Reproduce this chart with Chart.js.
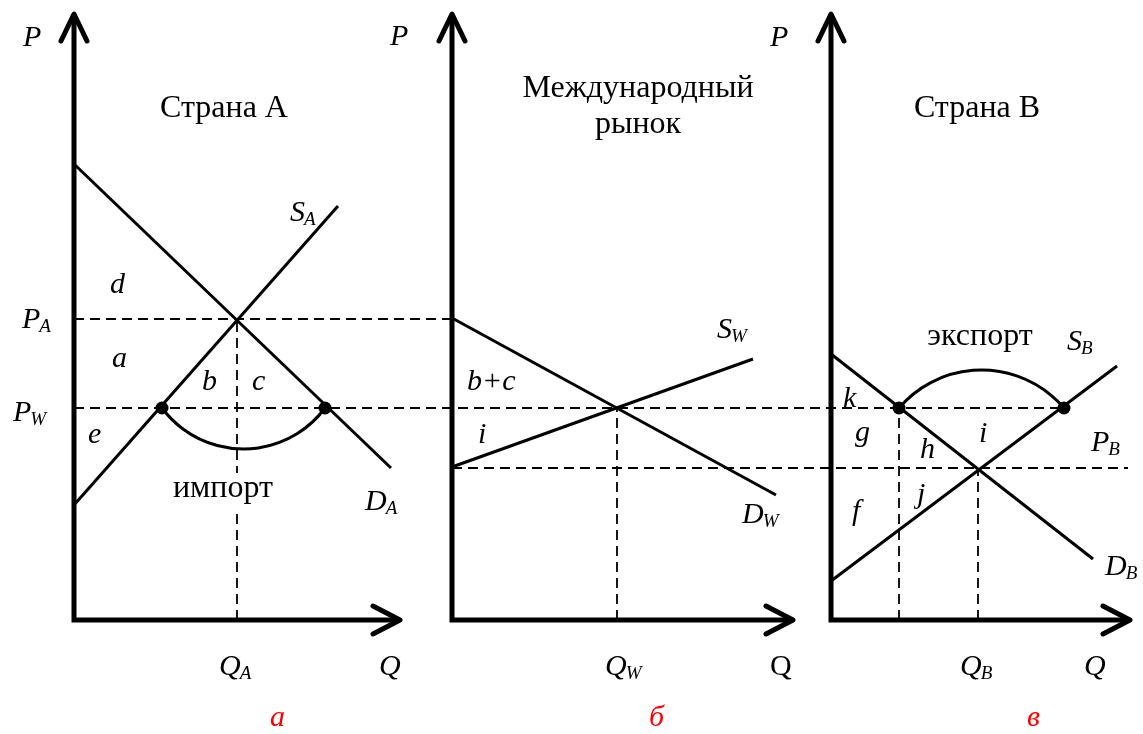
<!DOCTYPE html>
<html>
<head>
<meta charset="utf-8">
<script src="https://cdn.jsdelivr.net/npm/chart.js@4.4.1/dist/chart.umd.min.js"></script>
<style>
    html, body { margin: 0; padding: 0; background: #fff; }
    #wrap { position: relative; width: 1143px; height: 734px; }
</style>
</head>
<body>
<div id="wrap"><canvas id="chart" width="1143" height="734"></canvas></div>
<script>
// Drei Teilgrafiken auf einer gemeinsamen Preisskala P; Q zählt ab der jeweiligen P-Achse.
var panelOrigin = [0, 378, 757];
var axisQEnd = [326, 341, 299];
var axisPTop = 606;

// Страна А
var demandA = [[0, 456], [317, 152]];
var supplyA = [[0, 115], [264, 414]];
// Международный рынок
var demandW = [[0, 302], [324, 125]];
var supplyW = [[0, 153], [301, 261]];
// Страна В
var demandB = [[0, 266], [262, 61]];
var supplyB = [[0, 39], [286, 254]];

// Preise und Mengen
var priceA = 301, priceW = 212, priceB = 152;
var qtyA = 163, qtyW = 165, qtyB = 147;
var importDots = [88, 251];  // Q in Страна А bei P_W
var exportDots = [68, 233];  // Q in Страна В bei P_W
var importDepth = 41;
var exportHeight = 38;
var pbLineEnd = 297;         // Ende der P_B-Linie in Страна В

var FONT = '"Liberation Serif", "Times New Roman", serif';

// Beschriftungen: panel, q, p (Grundlinie), Text, Index, Stil
var labels = [
    [0, -51, 574, 'P', '', 'i'],
    [0, 150, 503, 'Страна А', '', 'title'],
    [0, 216, 399, 'S', 'A', 'i'],
    [0, 36, 327, 'd', '', 'i'],
    [0, -52, 292, 'P', 'A', 'i'],
    [0, 38, 253, 'a', '', 'i'],
    [0, 128, 230, 'b', '', 'i'],
    [0, 178, 230, 'c', '', 'i'],
    [0, -61, 199, 'P', 'W', 'i'],
    [0, 14, 177, 'e', '', 'i'],
    [0, 149, 123, 'импорт', '', 'boxed'],
    [0, 291, 110, 'D', 'A', 'i'],
    [0, 145, -55, 'Q', 'A', 'i'],
    [0, 305, -55, 'Q', '', 'i'],
    [0, 196, -106, 'а', '', 'red'],

    [1, -62, 575, 'P', '', 'i'],
    [1, 186, 523, 'Международный', '', 'title'],
    [1, 186, 487, 'рынок', '', 'title'],
    [1, 265, 282, 'S', 'W', 'i'],
    [1, 15, 230, 'b+c', '', 'i'],
    [1, 26, 177, 'i', '', 'i'],
    [1, 290, 97, 'D', 'W', 'i'],
    [1, 153, -55, 'Q', 'W', 'i'],
    [1, 318, -55, 'Q', '', 'r'],
    [1, 197, -106, 'б', '', 'red'],

    [2, -61, 574, 'P', '', 'i'],
    [2, 146, 503, 'Страна В', '', 'title'],
    [2, 149, 275, 'экспорт', '', 'title'],
    [2, 236, 270, 'S', 'B', 'i'],
    [2, 12, 213, 'k', '', 'i'],
    [2, 24, 179, 'g', '', 'i'],
    [2, 89, 162, 'h', '', 'i'],
    [2, 148, 178, 'i', '', 'i'],
    [2, 260, 169, 'P', 'B', 'i'],
    [2, 86, 117, 'j', '', 'i'],
    [2, 21, 100, 'f', '', 'i'],
    [2, 274, 45, 'D', 'B', 'i'],
    [2, 129, -55, 'Q', 'B', 'i'],
    [2, 253, -55, 'Q', '', 'i'],
    [2, 196, -106, 'в', '', 'red']
];

function pts(panel, arr) {
    return arr.map(function (d) {
        return { x: panelOrigin[panel] + d[0], y: d[1] };
    });
}

function curve(panel, arr) {
    return {
        data: pts(panel, arr),
        showLine: true,
        borderColor: '#000',
        borderWidth: 3,
        pointRadius: 0,
        tension: 0
    };
}

function dashed(data) {
    return {
        data: data,
        showLine: true,
        borderColor: '#000',
        borderWidth: 1.8,
        borderDash: [10, 6],
        pointRadius: 0,
        tension: 0
    };
}

var datasets = [
    // Hilfslinien
    dashed(pts(0, [[0, priceA], [panelOrigin[1], priceA]])),
    dashed(pts(0, [[0, priceW], [panelOrigin[2] + exportDots[1], priceW]])),
    dashed(pts(1, [[0, priceB], [panelOrigin[2] - panelOrigin[1] + pbLineEnd, priceB]])),
    dashed(pts(0, [[qtyA, 0], [qtyA, priceA]])),
    dashed(pts(1, [[qtyW, 0], [qtyW, priceW]])),
    dashed(pts(2, [[exportDots[0], 0], [exportDots[0], priceW]])),
    dashed(pts(2, [[qtyB, 0], [qtyB, priceB]])),
    // Angebot und Nachfrage
    curve(0, demandA), curve(0, supplyA),
    curve(1, demandW), curve(1, supplyW),
    curve(2, demandB), curve(2, supplyB),
    // Punkte bei P_W
    {
        data: pts(0, importDots.map(function (q) { return [q, priceW]; }))
            .concat(pts(2, exportDots.map(function (q) { return [q, priceW]; }))),
        showLine: false,
        pointRadius: 6.5,
        pointBackgroundColor: '#000',
        pointBorderWidth: 0
    }
];

// Achsen, Bögen und Texte zeichnen
var diagramPlugin = {
    id: 'diagram',
    afterDatasetsDraw: function (chart) {
        var ctx = chart.ctx;
        var xs = chart.scales.x;
        var ys = chart.scales.y;
        function px(panel, q) { return xs.getPixelForValue(panelOrigin[panel] + q); }
        function py(p) { return ys.getPixelForValue(p); }

        ctx.save();
        ctx.strokeStyle = '#000';

        // Bögen: импорт (nach unten), экспорт (nach oben)
        function arc(x1, x2, y0, s, down) {
            var half = (x2 - x1) / 2;
            var xm = x1 + half;
            var r = (half * half + s * s) / (2 * s);
            ctx.beginPath();
            if (down) {
                var cy = y0 + s - r;
                ctx.arc(xm, cy, r, Math.atan2(y0 - cy, half), Math.atan2(y0 - cy, -half), false);
            } else {
                var cy2 = y0 - s + r;
                ctx.arc(xm, cy2, r, Math.atan2(y0 - cy2, -half), Math.atan2(y0 - cy2, half), false);
            }
            ctx.lineWidth = 3;
            ctx.stroke();
        }
        var yw = py(priceW);
        arc(px(0, importDots[0]), px(0, importDots[1]), yw, py(priceW - importDepth) - yw, true);
        arc(px(2, exportDots[0]), px(2, exportDots[1]), yw, yw - py(priceW + exportHeight), false);

        // Achsen mit Pfeilen
        for (var i = 0; i < 3; i++) {
            var ox = px(i, 0), oy = py(0);
            var top = py(axisPTop), right = px(i, axisQEnd[i]);
            ctx.lineWidth = 5;
            ctx.lineCap = 'butt';
            ctx.lineJoin = 'miter';
            ctx.beginPath();
            ctx.moveTo(ox, top);
            ctx.lineTo(ox, oy);
            ctx.lineTo(right, oy);
            ctx.stroke();
            ctx.lineCap = 'round';
            ctx.lineJoin = 'round';
            ctx.beginPath();
            ctx.moveTo(ox - 13, top + 27);
            ctx.lineTo(ox, top);
            ctx.lineTo(ox + 13, top + 27);
            ctx.stroke();
            ctx.beginPath();
            ctx.moveTo(right - 27, oy - 14);
            ctx.lineTo(right, oy);
            ctx.lineTo(right - 27, oy + 14);
            ctx.stroke();
        }

        // Texte
        ctx.textBaseline = 'alphabetic';
        labels.forEach(function (l) {
            var x = px(l[0], l[1]);
            var y = py(l[2]);
            var style = l[5];
            var txt = l[3];
            if (style === 'title' || style === 'boxed') {
                ctx.font = '32px ' + FONT;
                ctx.textAlign = 'center';
                if (style === 'boxed') {
                    var w = ctx.measureText(txt).width;
                    ctx.fillStyle = '#fff';
                    ctx.fillRect(x - w / 2 - 3, y - 24, w + 6, 36);
                }
                ctx.fillStyle = '#000';
                ctx.fillText(txt, x, y);
                return;
            }
            ctx.textAlign = 'left';
            ctx.fillStyle = style === 'red' ? '#ff0000' : '#000';
            ctx.font = (style === 'r' ? '' : 'italic ') + '30px ' + FONT;
            ctx.fillText(txt, x, y);
            if (l[4]) {
                var mw = ctx.measureText(txt).width;
                ctx.font = 'italic 19px ' + FONT;
                ctx.fillText(l[4], x + mw - 1, y + 4);
            }
        });
        ctx.restore();
    }
};

new Chart(document.getElementById('chart').getContext('2d'), {
    type: 'scatter',
    data: { datasets: datasets },
    options: {
        responsive: false,
        animation: false,
        layout: { padding: 0, autoPadding: false },
        plugins: {
            legend: { display: false },
            tooltip: { enabled: false }
        },
        scales: {
            x: { type: 'linear', min: -74, max: 1069, display: false },
            y: { type: 'linear', min: -114, max: 620, display: false }
        }
    },
    plugins: [diagramPlugin]
});
</script>
</body>
</html>
